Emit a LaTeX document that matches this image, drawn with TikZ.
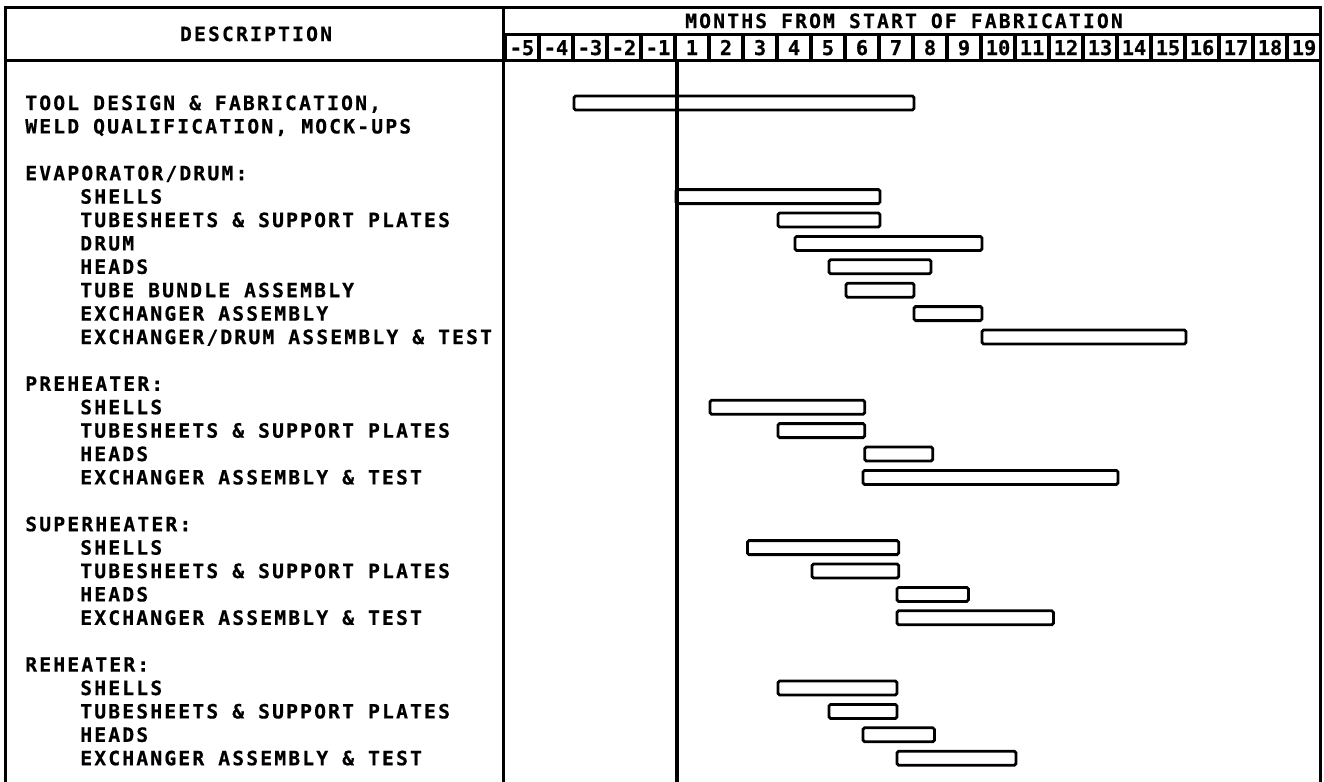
\documentclass[tikz,border=0pt]{standalone}
\usepackage{fontspec}
\usetikzlibrary{positioning}
\newfontfamily\lettering[LetterSpace=11,BoldFeatures={FakeBold=0.5}]{DejaVu Sans Mono}
\newfontfamily\digits[BoldFeatures={FakeBold=0.5}]{DejaVu Sans Mono}
\newcommand{\letterfont}{\lettering\bfseries\fontsize{14}{16}\selectfont}
\newcommand{\digitfont}{\digits\bfseries\fontsize{14.5}{16}\selectfont}

\begin{document}
\begin{tikzpicture}[
  x=0.25mm, y=-0.25mm,
  frameline/.style={line width=0.75mm},
  zeroline/.style={line width=1mm},
  cellline/.style={line width=1mm},
  bar/.style={draw,line width=0.7mm,rounded corners=0.4mm},
  lbl/.style={anchor=west,inner sep=0pt,text height=10pt,text depth=0pt,font=\letterfont},
  head/.style={inner sep=0pt,text height=10pt,text depth=0pt,font=\letterfont},
  month/.style={inner sep=0pt,text height=10pt,text depth=0pt,font=\digitfont}
]
\useasboundingbox (0,0) rectangle (1324,782);
% Frame and header rules
\draw[frameline] (5,782) -- (5,8) -- (1320,8) -- (1320,782);
\draw[frameline] (503,8) -- (503,782);
\draw[frameline] (503,35) -- (1320,35);
\draw[frameline] (5,61) -- (1320,61);
% Headings
\node[head] (desc) at (256,34) {DESCRIPTION};
\node[head] (months) at (904,21) {MONTHS FROM START OF FABRICATION};
% Month cells
\foreach \m [count=\i from 0] in {-5,-4,-3,-2,-1,1,2,3,4,5,6,7,8,9,10,11,12,13,14,15,16,17,18,19} {
  \node[month] (m\i) at ({522+34*\i},48) {\m};
  \draw[cellline] ({505+34*\i},35) -- ({505+34*\i},61);
}
% Start of fabrication
\draw[zeroline] (677,61) -- (677,782);
% Descriptions
\node[lbl] (tool)  at (25,103)   {TOOL DESIGN \& FABRICATION,};
\node[lbl] (weld)  at (25,126.4) {WELD QUALIFICATION, MOCK-UPS};
\node[lbl] (evap)  at (25,173.2) {EVAPORATOR/DRUM:};
\node[lbl] (evsh)  at (80,196.6) {SHELLS};
\node[lbl] (evts)  at (80,220)   {TUBESHEETS \& SUPPORT PLATES};
\node[lbl] (evdr)  at (80,243.4) {DRUM};
\node[lbl] (evhd)  at (80,266.8) {HEADS};
\node[lbl] (evtb)  at (80,290.2) {TUBE BUNDLE ASSEMBLY};
\node[lbl] (evea)  at (80,313.6) {EXCHANGER ASSEMBLY};
\node[lbl] (evdt)  at (80,337)   {EXCHANGER/DRUM ASSEMBLY \& TEST};
\node[lbl] (pre)   at (25,383.8) {PREHEATER:};
\node[lbl] (prsh)  at (80,407.2) {SHELLS};
\node[lbl] (prts)  at (80,430.6) {TUBESHEETS \& SUPPORT PLATES};
\node[lbl] (prhd)  at (80,454)   {HEADS};
\node[lbl] (prex)  at (80,477.4) {EXCHANGER ASSEMBLY \& TEST};
\node[lbl] (sup)   at (25,524.2) {SUPERHEATER:};
\node[lbl] (sush)  at (80,547.6) {SHELLS};
\node[lbl] (suts)  at (80,571)   {TUBESHEETS \& SUPPORT PLATES};
\node[lbl] (suhd)  at (80,594.4) {HEADS};
\node[lbl] (suex)  at (80,617.8) {EXCHANGER ASSEMBLY \& TEST};
\node[lbl] (reh)   at (25,664.6) {REHEATER:};
\node[lbl] (resh)  at (80,688)   {SHELLS};
\node[lbl] (rets)  at (80,711.4) {TUBESHEETS \& SUPPORT PLATES};
\node[lbl] (rehd)  at (80,734.8) {HEADS};
\node[lbl] (reex)  at (80,758.2) {EXCHANGER ASSEMBLY \& TEST};
% Bars: start month / end month / row
\foreach \a/\b/\r in {-3/7/0, 0/6/4, 3/6/5, 3.5/9/6, 4.5/7.5/7, 5/7/8, 7/9/9, 9/15/10,
    1/5.55/13, 3/5.55/14, 5.55/7.55/15, 5.5/13/16,
    2.1/6.55/19, 4/6.55/20, 6.5/8.6/21, 6.5/11.1/22,
    3/6.5/25, 4.5/6.5/26, 5.5/7.6/27, 6.5/10/28} {
  \draw[bar] ({676+34*\a},{96+23.4*\r}) rectangle ({676+34*\b},{110+23.4*\r});
}
\end{tikzpicture}
\end{document}
